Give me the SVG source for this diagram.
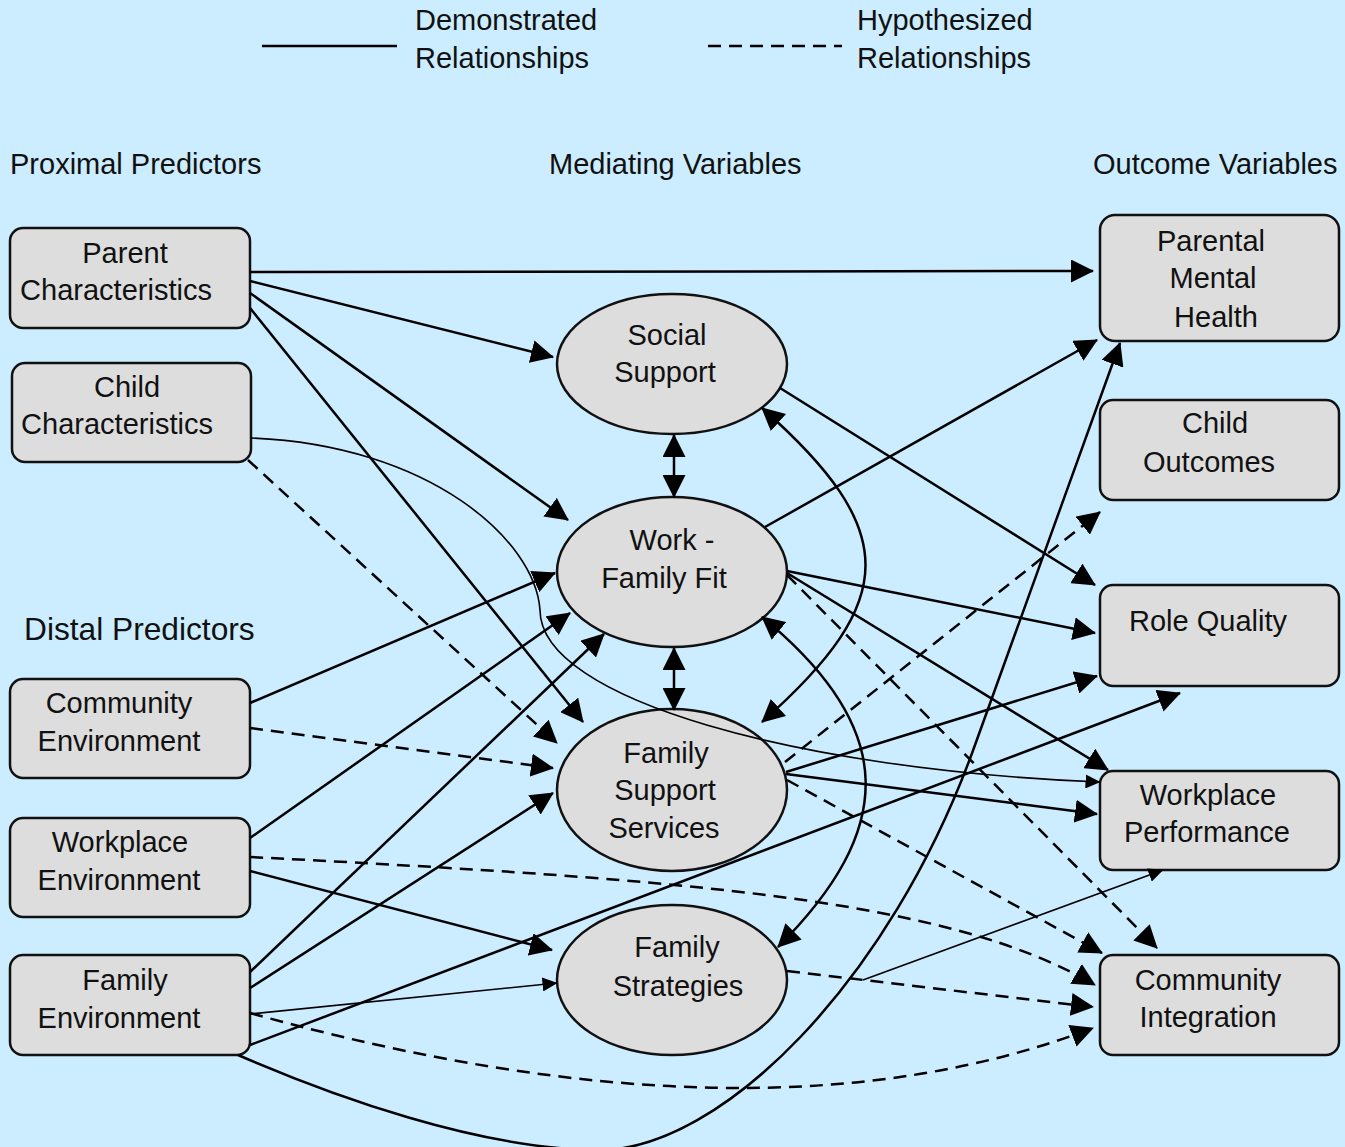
<svg xmlns="http://www.w3.org/2000/svg" width="1345" height="1147" viewBox="0 0 1345 1147">
<defs>
<style>
.bg{fill:#CCECFF}
.box{fill:#DDDDDD;stroke:#111;stroke-width:2.5}
.t{font-family:"Liberation Sans",Arial,sans-serif;font-size:29px;fill:#111;text-anchor:middle}
.h{font-family:"Liberation Sans",Arial,sans-serif;font-size:29px;fill:#111}
.c{fill:none;stroke:#000;stroke-width:2.5;marker-end:url(#ah)}
.d{stroke-dasharray:13 8}
.thin{stroke-width:1.6;marker-end:url(#ahs)}
.bi{marker-start:url(#ah)}
</style>
<marker id="ah" viewBox="0 0 23 23" markerWidth="23" markerHeight="23" refX="22" refY="11.5" markerUnits="userSpaceOnUse" orient="auto-start-reverse">
<path d="M0,0 L23,11.5 L0,23 z" fill="#000"/>
</marker>
<marker id="ahs" viewBox="0 0 15 14" markerWidth="15" markerHeight="14" refX="14.5" refY="7" markerUnits="userSpaceOnUse" orient="auto">
<path d="M0,0 L15,7 L0,14 z" fill="#000"/>
</marker>
</defs>
<rect class="bg" x="0" y="0" width="1345" height="1147"/>

<g id="legend">
<line x1="262" y1="46" x2="397" y2="46" stroke="#000" stroke-width="2.5"/>
<line x1="708" y1="46" x2="842" y2="46" stroke="#000" stroke-width="2.5" stroke-dasharray="13 8"/>
<text class="h" x="415" y="30">Demonstrated</text>
<text class="h" x="415" y="68">Relationships</text>
<text class="h" x="857" y="30">Hypothesized</text>
<text class="h" x="857" y="68">Relationships</text>
</g>

<g id="headers">
<text class="h" x="10" y="174">Proximal Predictors</text>
<text class="h" x="549" y="174">Mediating Variables</text>
<text class="h" x="1093" y="174">Outcome Variables</text>
<text class="h" x="24" y="640" style="font-size:31.7px">Distal Predictors</text>
</g>

<g id="parent-characteristics">
<rect class="box" x="10" y="228" width="240" height="100" rx="13"/>
<text class="t" x="125" y="263">Parent</text>
<text class="t" x="116" y="300">Characteristics</text>
</g>
<g id="child-characteristics">
<rect class="box" x="12" y="363" width="239" height="99" rx="13"/>
<text class="t" x="127" y="397">Child</text>
<text class="t" x="117" y="434">Characteristics</text>
</g>
<g id="community-environment">
<rect class="box" x="10" y="679" width="240" height="99" rx="13"/>
<text class="t" x="119" y="713">Community</text>
<text class="t" x="119" y="751">Environment</text>
</g>
<g id="workplace-environment">
<rect class="box" x="10" y="818" width="240" height="99" rx="13"/>
<text class="t" x="120" y="852">Workplace</text>
<text class="t" x="119" y="890">Environment</text>
</g>
<g id="family-environment">
<rect class="box" x="10" y="955" width="240" height="100" rx="13"/>
<text class="t" x="125" y="990">Family</text>
<text class="t" x="119" y="1028">Environment</text>
</g>

<g id="social-support">
<ellipse class="box" cx="672" cy="364" rx="115" ry="70"/>
<text class="t" x="667" y="345">Social</text>
<text class="t" x="665" y="382">Support</text>
</g>
<g id="work-family-fit">
<ellipse class="box" cx="672" cy="572" rx="115" ry="75"/>
<text class="t" x="672" y="550">Work -</text>
<text class="t" x="664" y="588">Family Fit</text>
</g>
<g id="family-support-services">
<ellipse class="box" cx="672" cy="790" rx="115" ry="81"/>
<text class="t" x="666" y="763">Family</text>
<text class="t" x="665" y="800">Support</text>
<text class="t" x="664" y="838">Services</text>
</g>
<g id="family-strategies">
<ellipse class="box" cx="672" cy="980" rx="115" ry="75"/>
<text class="t" x="677" y="957">Family</text>
<text class="t" x="678" y="996">Strategies</text>
</g>

<g id="parental-mental-health">
<rect class="box" x="1100" y="215" width="239" height="126" rx="15"/>
<text class="t" x="1211" y="251">Parental</text>
<text class="t" x="1213" y="288">Mental</text>
<text class="t" x="1216" y="327">Health</text>
</g>
<g id="child-outcomes">
<rect class="box" x="1100" y="400" width="239" height="100" rx="13"/>
<text class="t" x="1215" y="433">Child</text>
<text class="t" x="1209" y="472">Outcomes</text>
</g>
<g id="role-quality">
<rect class="box" x="1100" y="585" width="239" height="101" rx="13"/>
<text class="t" x="1208" y="631">Role Quality</text>
</g>
<g id="workplace-performance">
<rect class="box" x="1100" y="771" width="239" height="99" rx="13"/>
<text class="t" x="1208" y="805">Workplace</text>
<text class="t" x="1207" y="842">Performance</text>
</g>
<g id="community-integration">
<rect class="box" x="1100" y="955" width="239" height="100" rx="13"/>
<text class="t" x="1208" y="990">Community</text>
<text class="t" x="1208" y="1027">Integration</text>
</g>

<g id="connectors">
<path class="c" d="M250 272 L1093 271"/>
<path class="c" d="M250 281 L553 357"/>
<path class="c" d="M250 293 L568 520"/>
<path class="c" d="M250 308 L583 722"/>
<path class="c thin" d="M251 438 C430 445 535 540 540 610 C540 700 800 770 1100 782"/>
<path class="c d" d="M248 460 L557 743"/>
<path class="c" d="M250 703 L555 573"/>
<path class="c d" d="M250 728 L553 768"/>
<path class="c" d="M250 838 L570 613"/>
<path class="c d" d="M250 857 C700 880 950 900 1095 985"/>
<path class="c" d="M250 871 L552 950"/>
<path class="c" d="M250 972 L604 634"/>
<path class="c" d="M250 988 L553 793"/>
<path class="c thin" d="M250 1014 L557 983"/>
<path class="c" d="M250 1045 L1180 693"/>
<path class="c" d="M238 1055 C330 1095 480 1150 600 1150 C720 1150 890 983 975 745 L1120 343"/>
<path class="c d" d="M250 1013 Q760 1155 1093 1028"/>
<path class="c bi" d="M674 435 L674 497"/>
<path class="c" d="M780 388 L1095 585"/>
<path class="c bi" d="M762 408 C900 530 900 600 762 722"/>
<path class="c bi" d="M674 648 L674 710"/>
<path class="c bi" d="M762 617 C900 730 895 830 778 947"/>
<path class="c" d="M765 527 L1097 340"/>
<path class="c" d="M787 571 L1095 633"/>
<path class="c" d="M787 573 L1108 770"/>
<path class="c d" d="M787 575 L1157 948"/>
<path class="c d" d="M785 762 L1100 512"/>
<path class="c" d="M786 772 L1097 676"/>
<path class="c" d="M786 774 L1097 814"/>
<path class="c d" d="M787 780 L1102 953"/>
<path class="c d" d="M787 971 L1093 1007"/>
<path class="c thin" d="M863 980 L1163 870"/>
</g>
</svg>
